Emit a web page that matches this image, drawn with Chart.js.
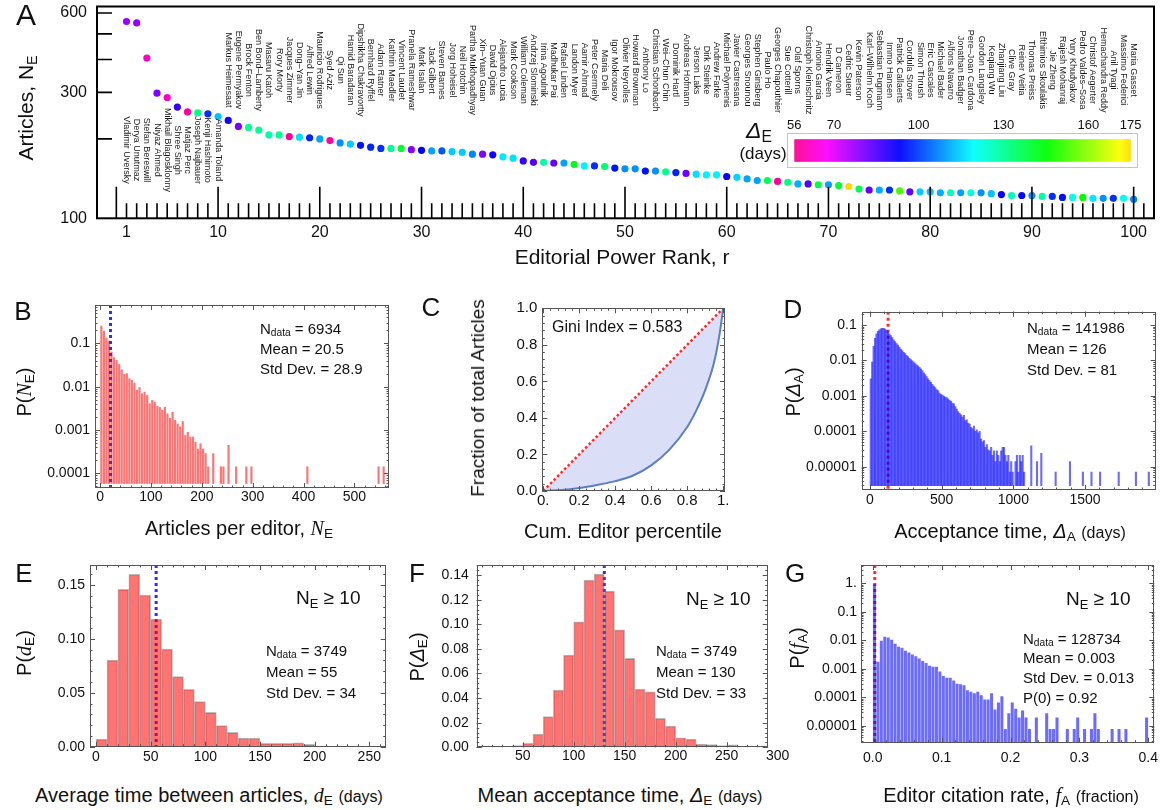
<!DOCTYPE html>
<html>
<head>
<meta charset="utf-8">
<script src="https://cdn.jsdelivr.net/npm/chart.js@4.4.1/dist/chart.umd.min.js"></script>
<style>
  html, body { margin: 0; background: #fff; }
  #page { position: relative; width: 1164px; height: 810px; overflow: hidden;
          font-family: 'Liberation Sans', Arial, Helvetica, sans-serif; color: #111; }
  canvas { position: absolute; }
  .t { position: absolute; white-space: nowrap; transform: translate(-50%, -50%); }
  .rot { transform: translate(-50%, -50%) rotate(-90deg); }
  .l { position: absolute; white-space: nowrap; transform: translateY(-50%); }
  .letter { font-size: 26px; }
  .st { font-size: 15px; }
  .big { font-size: 19px; }
  sub { font-size: 0.68em; vertical-align: -0.28em; line-height: 0; }
  .it { font-family: 'Liberation Serif', 'Times New Roman', serif; font-style: italic; }
  .dl { font-style: italic; }
  .sm { font-size: 0.8em; }
</style>
</head>
<body>
<div id="page">
  <canvas id="cA" width="1164" height="250" style="left:0;top:0"></canvas>
  <canvas id="cB" width="400" height="245" style="left:0;top:290px"></canvas>
  <canvas id="cC" width="350" height="245" style="left:400px;top:290px"></canvas>
  <canvas id="cD" width="414" height="245" style="left:750px;top:290px"></canvas>
  <canvas id="cE" width="400" height="230" style="left:0;top:550px"></canvas>
  <canvas id="cF" width="390" height="230" style="left:400px;top:550px"></canvas>
  <canvas id="cG" width="414" height="230" style="left:750px;top:550px"></canvas>

  <!-- panel A -->
  <div class="t" style="left:26px;top:15px;font-size:30px">A</div>
  <div class="t rot" style="left:26px;top:108px;font-size:21px">Articles, N<sub>E</sub></div>
  <div class="t" style="left:622px;top:257px;font-size:21px">Editorial Power Rank, r</div>
  <div class="t" style="left:759px;top:130px;font-size:23px"><span class="dl">Δ</span><sub>E</sub></div>
  <div class="t" style="left:763px;top:154px;font-size:17px">(days)</div>

  <!-- panel B -->
  <div class="t letter" style="left:23px;top:311px">B</div>
  <div class="t rot" style="left:24px;top:392px;font-size:20px">P(<span class="it">N</span><sub>E</sub>)</div>
  <div class="t" style="left:239px;top:528px;font-size:20px">Articles per editor, <span class="it">N</span><sub>E</sub></div>
  <div class="l st" style="left:260px;top:328px">N<sub>data</sub> = 6934</div>
  <div class="l st" style="left:260px;top:348px">Mean = 20.5</div>
  <div class="l st" style="left:260px;top:368px">Std Dev. = 28.9</div>

  <!-- panel C -->
  <div class="t letter" style="left:431px;top:307px">C</div>
  <div class="t rot" style="left:478px;top:398px;font-size:19px">Fraction of total Articles</div>
  <div class="t" style="left:623px;top:531px;font-size:20px">Cum. Editor percentile</div>
  <div class="l" style="left:552px;top:327px;font-size:16px">Gini Index = 0.583</div>

  <!-- panel D -->
  <div class="t letter" style="left:793px;top:309px">D</div>
  <div class="t rot" style="left:793px;top:392px;font-size:20px">P(<span class="dl">Δ</span><sub>A</sub>)</div>
  <div class="t" style="left:1010px;top:531px;font-size:20px">Acceptance time, <span class="dl">Δ</span><sub>A</sub> <span class="sm">(days)</span></div>
  <div class="l st" style="left:1027px;top:327px">N<sub>data</sub> = 141986</div>
  <div class="l st" style="left:1027px;top:348px">Mean = 126</div>
  <div class="l st" style="left:1027px;top:369px">Std Dev. = 81</div>

  <!-- panel E -->
  <div class="t letter" style="left:24px;top:573px">E</div>
  <div class="t rot" style="left:24px;top:653px;font-size:20px">P(<span class="it">d</span><sub>E</sub>)</div>
  <div class="t" style="left:209px;top:795px;font-size:20px">Average time between articles, <span class="it">d</span><sub>E</sub> <span class="sm">(days)</span></div>
  <div class="l big" style="left:296px;top:598px">N<sub>E</sub> ≥ 10</div>
  <div class="l st" style="left:266px;top:650px">N<sub>data</sub> = 3749</div>
  <div class="l st" style="left:266px;top:671px">Mean = 55</div>
  <div class="l st" style="left:266px;top:692px">Std Dev. = 34</div>

  <!-- panel F -->
  <div class="t letter" style="left:417px;top:573px">F</div>
  <div class="t rot" style="left:417px;top:657px;font-size:20px">P(<span class="dl">Δ</span><sub>E</sub>)</div>
  <div class="t" style="left:620px;top:795px;font-size:20px">Mean acceptance time, <span class="dl">Δ</span><sub>E</sub> <span class="sm">(days)</span></div>
  <div class="l big" style="left:686px;top:599px">N<sub>E</sub> ≥ 10</div>
  <div class="l st" style="left:656px;top:650px">N<sub>data</sub> = 3749</div>
  <div class="l st" style="left:656px;top:671px">Mean = 130</div>
  <div class="l st" style="left:656px;top:692px">Std Dev. = 33</div>

  <!-- panel G -->
  <div class="t letter" style="left:795px;top:573px">G</div>
  <div class="t rot" style="left:797px;top:648px;font-size:20px">P(<span class="it">f</span><sub>A</sub>)</div>
  <div class="t" style="left:1011px;top:795px;font-size:20px">Editor citation rate, <span class="it">f</span><sub>A</sub> <span class="sm">(fraction)</span></div>
  <div class="l big" style="left:1066px;top:599px">N<sub>E</sub> ≥ 10</div>
  <div class="l st" style="left:1023px;top:638px">N<sub>data</sub> = 128734</div>
  <div class="l st" style="left:1023px;top:657px">Mean = 0.003</div>
  <div class="l st" style="left:1023px;top:677px">Std Dev. = 0.013</div>
  <div class="l st" style="left:1023px;top:697px">P(0) = 0.92</div>
</div>

<script>
// ─────────────────────────────────────────────────────────────
// DATA: panel A (top 100 editors)
// ─────────────────────────────────────────────────────────────
const editorNames = [
  'Vladimir Uversky', 'Derya Unutmaz', 'Stefan Bereswill', 'Niyaz Ahmed', 'Mikhail Blagosklonny',
  'Shree Singh', 'Matjaz Perc', 'Joseph Najbauer', 'Kenji Hashimoto', 'Amanda Toland',
  'Markus Heimesaat', 'Eugene Permyakov', 'Brock Fenton', 'Ben Bond–Lamberty', 'Masaru Katoh',
  'Rory Morty', 'Jacques Zimmer', 'Dong–Yan Jin', 'Alfred Lewin', 'Mauricio Rodrigues',
  'Syed Aziz', 'Qi Sun', 'Hamid Baradaran', 'Dipshikha Chakravortty', 'Bernhard Ryffel',
  'Adam Ratner', 'Kathrin Maedler', 'Vincent Laudet', 'Pranela Rameshwar', 'Mark Isalan',
  'Jack Gilbert', 'Steven Barnes', 'Jorg Hoheisel', 'Neil Hotchin', 'Partha Mukhopadhyay',
  'Xin–Yuan Guan', 'David Ojcius', 'Alejandro Lucia', 'Mark Cookson', 'William Coleman',
  'Andrzej Slominski', 'Irina Agoulnik', 'Madhukar Pai', 'Rafael Linden', 'Landon Myer',
  'Aamir Ahmad', 'Peter Csermely', 'Maria Deli', 'Igor Mokrousov', 'Olivier Neyrolles',
  'Howard Browman', 'Anthony Lo', 'Christian Schonbach', 'Wei–Chun Chin', 'Dominik Hartl',
  'Andreas Hofmann', 'Jerson Laks', 'Dirk Steinke', 'Andrew Farke', 'Michael Polymenis',
  'Javier Castresana', 'Georges Snounou', 'Stephen Ginsberg', 'Paulo Ho', 'Georges Chapouthier',
  'Sue Cotterill', 'Olaf Sporns', 'Christoph Kleinschnitz', 'Antonio Garcia', 'Hendrik Veen',
  'D Cameron', 'Cedric Sueur', 'Kevin Paterson', 'Karl–Wilhelm Koch', 'Sebastian Fugmann',
  'Immo Hansen', 'Patrick Callaerts', 'Cordula Stover', 'Simon Thrush', 'Eric Cascales',
  'Michael Bader', 'Alfons Navarro', 'Jonathan Badger', 'Pere–Joan Cardona', 'Gordon Langsley',
  'Keqiang Wu', 'Zhanjiang Liu', 'Clive Gray', 'Reiner Veitia', 'Thomas Preiss',
  'Efthimios Skoulakis', 'Jie Zheng', 'Rajesh Mohanraj', 'Yury Khudyakov', 'Pedro Valdes–Sosa',
  'Christof Aegerter', 'Hemachandra Reddy', 'Anil Tyagi', 'Massimo Federici', 'Maria Gasset',
];

// articles handled, N_E
const editorArticles = [
  557, 550, 405, 298, 287, 264, 253, 251, 249, 243,
  235, 223, 221, 216, 207, 207, 204, 203, 202, 200,
  197, 193, 191, 189, 186, 184, 184, 184, 182, 181,
  180, 180, 179, 178, 175, 175, 174, 171, 169, 165,
  163, 163, 162, 162, 160, 158, 158, 157, 155, 154,
  154, 151, 151, 150, 149, 148, 147, 146, 146, 144,
  143, 141, 139, 139, 138, 137, 135, 135, 134, 134,
  133, 132, 129, 128, 128, 128, 127, 126, 126, 126,
  125, 125, 125, 125, 125, 124, 123, 122, 122, 122,
  121, 121, 120, 120, 120, 119, 119, 119, 119, 118,
];

// mean acceptance time, Delta_E (days) -> dot colour
const editorDelta = [
  78, 78, 61, 80, 61, 88, 57, 132, 98, 113,
  91, 80, 130, 130, 128, 130, 57, 116, 97, 110,
  58, 108, 114, 95, 97, 98, 130, 140, 80, 93,
  110, 102, 114, 114, 107, 80, 91, 117, 116, 88,
  85, 128, 83, 110, 142, 118, 98, 134, 95, 108,
  108, 95, 108, 131, 97, 82, 116, 118, 118, 92,
  115, 110, 110, 137, 57, 132, 111, 85, 138, 110,
  140, 175, 137, 83, 111, 98, 152, 83, 114, 113,
  111, 126, 110, 123, 108, 113, 92, 126, 94, 108,
  128, 98, 95, 121, 145, 117, 108, 98, 120, 107,
];

const rankTicks = [1, 10, 20, 30, 40, 50, 60, 70, 80, 90, 100];
const articleTicks = [100, 200, 300, 400, 500, 600];
const articleTickLabels = ['100', '', '300', '', '', '600'];
const deltaBarTicks = [56, 70, 100, 130, 160, 175];

// ─────────────────────────────────────────────────────────────
// DATA: panel B (articles per editor)
// ─────────────────────────────────────────────────────────────
const bBinWidth = 5;
const bProb = [
  0.255, 0.195, 0.137, 0.115, 0.064, 0.0475, 0.041, 0.033, 0.025, 0.0195,
  0.0203, 0.0155, 0.0142, 0.0123, 0.0084, 0.0097, 0.007, 0.0076, 0.0064, 0.0041,
  0.0049, 0.0045, 0.0036, 0.0034, 0.0029, 0.0034, 0.0024, 0.0019, 0.0026, 0.0017,
  0.0014, 0.0012, 0.0016, 0.00076, 0.0009, 0.0007, 0.0007, 0.00053, 0.00037, 0.00049,
  0.00037, 0.00029,
];
const bTailStart = [210, 220, 235, 240, 250, 265, 285, 295, 405, 545, 555];
const bTailProb = [0.000144, 0.00029, 0.000144, 0.000144, 0.00045, 0.000144, 0.000144, 0.000144, 0.000144, 0.000144, 0.000144];
const bMean = 20.5;
const bTicksX = [0, 100, 200, 300, 400, 500];
const bTicksY = [0.0001, 0.001, 0.01, 0.1];
const bLabelsY = ['0.0001', '0.001', '0.01', '0.1'];

// ─────────────────────────────────────────────────────────────
// DATA: panel C (Lorenz curve)
// ─────────────────────────────────────────────────────────────
const lorenzX = [0, 0.1, 0.2, 0.3, 0.4, 0.5, 0.6, 0.7, 0.8, 0.85, 0.9, 0.95, 0.98, 1];
const lorenzY = [0, 0.005, 0.016, 0.033, 0.054, 0.085, 0.14, 0.225, 0.35, 0.44, 0.552, 0.707, 0.86, 1];
const equalityX = [0, 1];
const equalityY = [0, 1];
const cTicks = [0, 0.2, 0.4, 0.6, 0.8, 1];
const cLabelsX = ['0.', '0.2', '0.4', '0.6', '0.8', '1.'];
const cLabelsY = ['0.0', '0.2', '0.4', '0.6', '0.8', '1.0'];

// ─────────────────────────────────────────────────────────────
// DATA: panel D (acceptance time)
// ─────────────────────────────────────────────────────────────
const dBinWidth = 10;
const dProb = [
  0.003, 0.009, 0.025, 0.042, 0.056, 0.066, 0.073, 0.078, 0.080, 0.081,
  0.077, 0.071, 0.064, 0.056, 0.050, 0.044, 0.038, 0.034, 0.030, 0.027,
  0.024, 0.021, 0.019, 0.017, 0.0155, 0.014, 0.0128, 0.0115, 0.0105, 0.0098,
  0.009, 0.0082, 0.0075, 0.007, 0.0064, 0.0058, 0.0052, 0.0045, 0.004, 0.0035,
  0.003, 0.0027, 0.0024, 0.0021, 0.0019, 0.0017, 0.0015, 0.0014, 0.0012, 0.0011,
  0.00105, 0.00098, 0.00092, 0.0009, 0.00082, 0.00075, 0.0007, 0.00063, 0.0006, 0.0005,
  0.00042, 0.00036, 0.00032, 0.00029, 0.00025, 0.00028, 0.0002, 0.00021, 0.00017, 0.00016,
  0.00013, 0.00012, 0.00014, 0.0001, 0.00011, 0.00009, 0.0001, 0.00006, 0.00005, 0.000055,
  0.000035, 0.000042, 0.00003, 0.000028, 0.000035, 0.000021, 0.000028, 0.000014, 0.000028, 0.000021,
  0.000014, 0.000028, 0.000035, 0.000035, 0.000021, 0.000014, 0.000021, 0.000007, 0.000014, 0.000007,
  0, 0.000014, 0.000021, 0.000007, 0.000021, 0.000014, 0.000021, 0.000007, 0, 0,
];
const dTailStart = [1120, 1160, 1190, 1290, 1390, 1480, 1540, 1600, 1730, 1850, 1940];
const dTailProb = [0.000039, 0.000014, 0.000024, 0.000007, 0.000014, 0.000007, 0.000007, 0.000007, 0.000007, 0.000007, 0.000007];
const dMean = 126;
const dTicksX = [0, 500, 1000, 1500];
const dTicksY = [0.00001, 0.0001, 0.001, 0.01, 0.1];
const dLabelsY = ['0.00001', '0.0001', '0.001', '0.01', '0.1'];

// ─────────────────────────────────────────────────────────────
// DATA: panel E (time between articles)
// ─────────────────────────────────────────────────────────────
const eBinWidth = 10;
const eProb = [
  0.0071, 0.0804, 0.146, 0.16, 0.1408, 0.1185, 0.0906, 0.065, 0.0533, 0.0418,
  0.0319, 0.0195, 0.0133, 0.0081, 0.0081, 0.0031, 0.0031, 0.0031, 0.0037, 0.0022,
  0.0005,
];
const eMean = 55;
const eTicksX = [0, 50, 100, 150, 200, 250];
const eTicksY = [0, 0.05, 0.1, 0.15];
const eLabelsY = ['0.00', '0.05', '0.10', '0.15'];

// ─────────────────────────────────────────────────────────────
// DATA: panel F (mean acceptance time per editor)
// ─────────────────────────────────────────────────────────────
const fBinWidth = 10;
const fBinStart = 40;
const fProb = [
  0.0013, 0.0033, 0.0108, 0.0249, 0.0466, 0.075, 0.102, 0.136, 0.1409, 0.127,
  0.0954, 0.0723, 0.0474, 0.045, 0.0236, 0.0173, 0.0078, 0.0067, 0.0027, 0.0022,
  0.0013, 0.002, 0.0008,
];
const fMean = 130;
const fTicksX = [50, 100, 150, 200, 250, 300];
const fTicksY = [0, 0.02, 0.04, 0.06, 0.08, 0.1, 0.12, 0.14];
const fLabelsY = ['0.00', '0.02', '0.04', '0.06', '0.08', '0.10', '0.12', '0.14'];

// ─────────────────────────────────────────────────────────────
// DATA: panel G (editor citation rate)
// ─────────────────────────────────────────────────────────────
const gBinWidth = 0.005;
const gProb = [
  0.92, 0.0018, 0.0098, 0.0135, 0.0125, 0.0105, 0.0077, 0.006, 0.0055, 0.0043,
  0.0038, 0.0032, 0.0028, 0.0023, 0.0019, 0.0016, 0.0013, 0.0012, 0.0012, 0.00081,
  0.00056, 0.00049, 0.00049, 0.00039, 0.0003, 0.00029, 0.00027, 0.00018, 0.00016, 0.00014,
  0.00016, 0.00012, 0.000085, 0.000085, 0.00014, 0.000038, 0.000067, 0.00011, 0.0000078, 0.000028,
  0.000067, 0.00004, 0.00002, 0.000035, 0.00002, 0.0000078, 0, 0.00002, 0, 0,
  0.000028, 0.0000078, 0.0000078, 0.00002, 0, 0, 0.0000078, 0, 0.0000078, 0.00002,
  0, 0.0000078, 0, 0.0000078, 0.000028, 0.0000078, 0, 0, 0, 0.0000078,
  0, 0.0000078, 0, 0.0000078, 0, 0, 0, 0, 0, 0.00002,
];
const gMean = 0.003;
const gTicksX = [0, 0.1, 0.2, 0.3, 0.4];
const gLabelsX = ['0.0', '0.1', '0.2', '0.3', '0.4'];
const gTicksY = [0.00001, 0.0001, 0.001, 0.01, 0.1, 1];
const gLabelsY = ['0.00001', '0.0001', '0.001', '0.01', '0.1', '1.'];

// ─────────────────────────────────────────────────────────────
// HELPERS
// ─────────────────────────────────────────────────────────────
const FONT = "'Liberation Sans', Arial, Helvetica, sans-serif";
Chart.defaults.font.family = FONT;
Chart.defaults.color = '#111';

// hue ramp of the Delta_E colour bar (pink -> blue -> green -> gold)
function deltaColor(v) {
  const h = 326 - (v - 56) * 2.31;
  return `hsl(${h.toFixed(1)},100%,50%)`;
}

function bins(start, width, probs) {
  return probs.map((p, i) => ({ x: start + (i + 0.5) * width, y: p })).filter(d => d.y > 0);
}

function axisOpts(o) {
  return {
    type: o.type || 'linear',
    min: o.min,
    max: o.max,
    bounds: 'data',
    offset: false,
    grid: { display: false, drawTicks: false },
    border: { display: false },
    afterBuildTicks: s => { s.ticks = o.ticks.map(v => ({ value: v })); },
    afterFit: s => {
      if (o.axis === 'x') s.height = o.size; else s.width = o.size;
      s.paddingLeft = s.paddingRight = s.paddingTop = s.paddingBottom = 0;
    },
    ticks: {
      autoSkip: false, maxRotation: 0, minRotation: 0,
      padding: o.pad, color: '#111',
      font: { size: o.font, family: FONT },
      callback: (v, i) => o.labels[i],
    },
  };
}

function minorValues(scale, major) {
  const out = [];
  if (scale.type === 'logarithmic') {
    const e0 = Math.floor(Math.log10(scale.min));
    const e1 = Math.ceil(Math.log10(scale.max));
    for (let e = e0; e <= e1; e++) for (let k = 2; k < 10; k++) out.push(k * Math.pow(10, e));
  } else if (major.length > 1) {
    const step = (major[1] - major[0]) / 5;
    let v = major[0];
    while (v - step >= scale.min) v -= step;
    for (; v <= scale.max + 1e-9; v += step) out.push(v);
  }
  return out;
}

// grey frame with inward ticks on all four sides (Mathematica look)
const frameTicks = {
  id: 'frameTicks',
  afterDatasetsDraw(chart) {
    const { ctx, chartArea: a, scales: { x, y } } = chart;
    ctx.save();
    ctx.strokeStyle = '#555';
    ctx.lineWidth = 1;
    ctx.beginPath();
    const mark = (s, vals, len) => {
      vals.forEach(v => {
        if (v < s.min || v > s.max) return;
        const p = Math.round(s.getPixelForValue(v)) + 0.5;
        if (s.axis === 'x') {
          ctx.moveTo(p, a.bottom); ctx.lineTo(p, a.bottom - len);
          ctx.moveTo(p, a.top); ctx.lineTo(p, a.top + len);
        } else {
          ctx.moveTo(a.left, p); ctx.lineTo(a.left + len, p);
          ctx.moveTo(a.right, p); ctx.lineTo(a.right - len, p);
        }
      });
    };
    [x, y].forEach(s => {
      const major = s.ticks.map(t => t.value);
      mark(s, major, 5);
      mark(s, minorValues(s, major), 2.5);
    });
    ctx.stroke();
    ctx.strokeRect(Math.round(a.left) + 0.5, Math.round(a.top) + 0.5,
                   Math.round(a.width) - 1, Math.round(a.height) - 1);
    ctx.restore();
  }
};

// ─────────────────────────────────────────────────────────────
// PANEL A
// ─────────────────────────────────────────────────────────────
const rankDecor = {
  id: 'rankDecor',
  afterDatasetsDraw(chart) {
    const { ctx, chartArea: a, scales: { x, y } } = chart;
    ctx.save();

    // rank ticks along the bottom, tall ones every 10
    ctx.strokeStyle = '#000';
    ctx.lineWidth = 1.6;
    ctx.beginPath();
    for (let r = 0; r <= 101; r++) {
      const px = x.getPixelForValue(r);
      const len = r % 10 === 0 ? 31.6 : 15;
      ctx.moveTo(px, a.bottom); ctx.lineTo(px, a.bottom - len);
    }
    articleTicks.forEach(v => {
      if (v <= y.min) return;
      const py = y.getPixelForValue(v);
      ctx.moveTo(a.left, py); ctx.lineTo(a.left + 15, py);
    });
    ctx.stroke();
    ctx.lineWidth = 2;
    ctx.strokeRect(a.left, a.top, a.width, a.height);

    // editor names, rotated
    ctx.fillStyle = '#1a1a1a';
    ctx.font = `9px ${FONT}`;
    ctx.textAlign = 'center';
    ctx.textBaseline = 'middle';
    editorNames.forEach((name, i) => {
      const px = x.getPixelForValue(i + 1);
      const cy = i < 10 ? a.top + 143.5 : a.top + 63.5;
      ctx.save();
      ctx.translate(px, cy);
      ctx.rotate(Math.PI / 2);
      ctx.fillText(name, 0, 0);
      ctx.restore();
    });

    // colour bar legend for Delta_E
    const L = a.left + 697.3, R = a.left + 1033.7, T = a.top + 132.8, B = a.top + 155.2;
    const lo = deltaBarTicks[0], hi = deltaBarTicks[deltaBarTicks.length - 1];
    for (let px = L; px < R; px += 1) {
      ctx.fillStyle = deltaColor(lo + (px - L) / (R - L) * (hi - lo));
      ctx.fillRect(px, T, Math.min(1.5, R - px), B - T);
    }
    ctx.strokeStyle = '#c4c4c4';
    ctx.lineWidth = 1;
    ctx.strokeRect(a.left + 690.5, a.top + 127, 350, 34);
    ctx.fillStyle = '#111';
    ctx.font = `13px ${FONT}`;
    deltaBarTicks.forEach(v => {
      ctx.fillText(String(v), L + (v - lo) / (hi - lo) * (R - L), a.top + 118.5);
    });
    ctx.restore();
  }
};

new Chart(document.getElementById('cA'), {
  type: 'scatter',
  data: {
    datasets: [{
      data: editorArticles.map((n, i) => ({ x: i + 1, y: n })),
      pointBackgroundColor: editorDelta.map(deltaColor),
      pointBorderWidth: 0,
      pointRadius: 3.6,
    }]
  },
  options: {
    responsive: false, animation: false, events: [],
    layout: { padding: { top: 6.5, right: 10, left: 0, bottom: 0 } },
    plugins: { legend: { display: false }, tooltip: { enabled: false } },
    scales: {
      x: axisOpts({ axis: 'x', min: -1.9, max: 102, ticks: rankTicks, labels: rankTicks.map(String), size: 31.7, pad: 5, font: 16 }),
      y: axisOpts({ axis: 'y', type: 'logarithmic', min: 100, max: 635, ticks: articleTicks, labels: articleTickLabels, size: 97, pad: 10, font: 16 }),
    },
  },
  plugins: [rankDecor],
});

// ─────────────────────────────────────────────────────────────
// HISTOGRAM PANELS
// ─────────────────────────────────────────────────────────────
function histChart(c) {
  const bar = {
    type: 'bar',
    data: c.bars,
    backgroundColor: c.barColor,
    borderColor: c.edgeColor || 'rgba(0,0,0,0)',
    borderWidth: c.edgeWidth || 0,
    barPercentage: c.barPct || 1,
    categoryPercentage: 1,
    order: 1,
  };
  if (c.base) bar.base = c.base;
  const meanLine = {
    type: 'line',
    data: [{ x: c.mean, y: c.y.max }, { x: c.mean, y: c.y.min }],
    borderColor: c.lineColor,
    borderWidth: 3,
    borderDash: [3, 3],
    pointRadius: 0,
    order: 2,
  };
  return new Chart(document.getElementById(c.id), {
    type: 'bar',
    data: { datasets: [bar, meanLine] },
    options: {
      responsive: false, animation: false, events: [],
      layout: { padding: c.pad },
      plugins: { legend: { display: false }, tooltip: { enabled: false } },
      scales: { x: axisOpts(Object.assign({ axis: 'x' }, c.x)), y: axisOpts(Object.assign({ axis: 'y' }, c.y)) },
    },
    plugins: [frameTicks],
  });
}

const RED_BAR = 'rgba(255,0,0,0.55)';
const BLUE_BAR = 'rgba(0,0,255,0.58)';

histChart({
  id: 'cB',
  bars: bins(0, bBinWidth, bProb).concat(bTailStart.map((s, i) => ({ x: s + bBinWidth / 2, y: bTailProb[i] }))),
  barColor: RED_BAR, barPct: 0.85, base: 5.7e-5,
  mean: bMean, lineColor: 'rgb(45,45,255)',
  pad: { top: 15, right: 11, left: 0, bottom: 0 },
  x: { min: -10, max: 568, ticks: bTicksX, labels: bTicksX.map(String), size: 47, pad: 1, font: 14 },
  y: { type: 'logarithmic', min: 4.58e-5, max: 0.766, ticks: bTicksY, labels: bLabelsY, size: 95, pad: 5, font: 14 },
});

histChart({
  id: 'cD',
  bars: bins(0, dBinWidth, dProb).concat(dTailStart.map((s, i) => ({ x: s + dBinWidth / 2, y: dTailProb[i] }))),
  barColor: BLUE_BAR, base: 2.9e-6,
  mean: dMean, lineColor: 'rgb(255,45,45)',
  pad: { top: 21.7, right: 8.3, left: 0, bottom: 0 },
  x: { min: -58, max: 1993, ticks: dTicksX, labels: dTicksX.map(String), size: 45, pad: 2, font: 14 },
  y: { type: 'logarithmic', min: 2.2e-6, max: 0.2375, ticks: dTicksY, labels: dLabelsY, size: 111.7, pad: 5, font: 14 },
});

histChart({
  id: 'cE',
  bars: bins(0, eBinWidth, eProb),
  barColor: RED_BAR, edgeColor: 'rgba(110,110,110,0.45)', edgeWidth: 1,
  mean: eMean, lineColor: 'rgb(45,45,255)',
  pad: { top: 15, right: 14.3, left: 0, bottom: 0 },
  x: { min: -5.5, max: 265, ticks: eTicksX, labels: eTicksX.map(String), size: 33.3, pad: 2, font: 14 },
  y: { min: 0, max: 0.1686, ticks: eTicksY, labels: eLabelsY, size: 90, pad: 5, font: 14 },
});

histChart({
  id: 'cF',
  bars: bins(fBinStart, fBinWidth, fProb),
  barColor: RED_BAR, edgeColor: 'rgba(110,110,110,0.45)', edgeWidth: 1,
  mean: fMean, lineColor: 'rgb(45,45,255)',
  pad: { top: 15, right: 22.3, left: 0, bottom: 0 },
  x: { min: 4.9, max: 290.2, ticks: fTicksX, labels: fTicksX.map(String), size: 32.7, pad: 0, font: 14 },
  y: { min: 0, max: 0.1482, ticks: fTicksY, labels: fLabelsY, size: 76.7, pad: 8, font: 14 },
});

histChart({
  id: 'cG',
  bars: bins(0, gBinWidth, gProb),
  barColor: BLUE_BAR, barPct: 0.88,
  mean: gMean, lineColor: 'rgb(255,45,45)',
  pad: { top: 15, right: 9.7, left: 0, bottom: 0 },
  x: { min: -0.017, max: 0.4087, ticks: gTicksX, labels: gLabelsX, size: 37.3, pad: 7, font: 14 },
  y: { type: 'logarithmic', min: 2.6e-6, max: 4.38, ticks: gTicksY, labels: gLabelsY, size: 111, pad: 4, font: 14 },
});

// ─────────────────────────────────────────────────────────────
// PANEL C: Lorenz curve
// ─────────────────────────────────────────────────────────────
new Chart(document.getElementById('cC'), {
  type: 'line',
  data: {
    datasets: [
      {
        data: lorenzX.map((v, i) => ({ x: v, y: lorenzY[i] })),
        borderColor: '#5b7fc1', borderWidth: 2, pointRadius: 0,
        cubicInterpolationMode: 'monotone',
        fill: 1, backgroundColor: 'rgba(188,194,240,0.55)',
        order: 1,
      },
      {
        data: equalityX.map((v, i) => ({ x: v, y: equalityY[i] })),
        borderColor: '#ff2a2a', borderWidth: 2.5, borderDash: [2.5, 2.5],
        pointRadius: 0, fill: false,
        order: 0,
      },
    ]
  },
  options: {
    responsive: false, animation: false, events: [],
    layout: { padding: { top: 18.3, right: 25, left: 0, bottom: 0 } },
    plugins: { legend: { display: false }, tooltip: { enabled: false } },
    scales: {
      x: axisOpts({ axis: 'x', min: -0.005, max: 1.01, ticks: cTicks, labels: cLabelsX, size: 44, pad: 1, font: 15 }),
      y: axisOpts({ axis: 'y', min: 0, max: 1, ticks: cTicks, labels: cLabelsY, size: 142.3, pad: 5, font: 15 }),
    },
  },
  plugins: [frameTicks],
});
</script>
</body>
</html>
